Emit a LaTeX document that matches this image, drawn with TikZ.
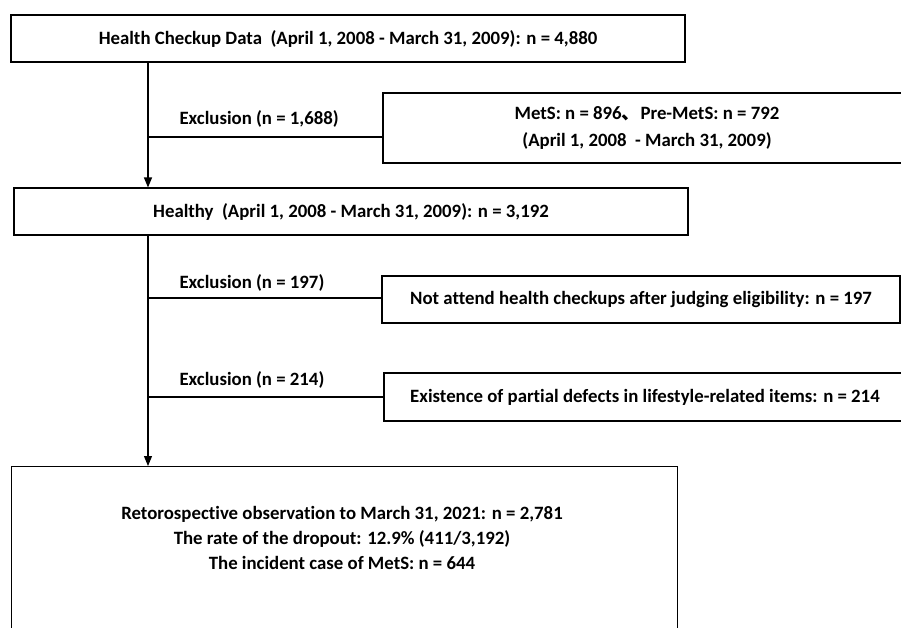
\documentclass[tikz,border=0pt]{standalone}
\usepackage{fontspec}
\setmainfont{Carlito}[Ligatures=NoCommon]
\newfontfamily\cjk{Noto Sans CJK SC}
\usetikzlibrary{arrows.meta,positioning,calc}

\begin{document}
\begin{tikzpicture}[x=1pt, y=-1pt, line width=1.1pt,
  font=\bfseries\fontsize{18.8}{25}\selectfont, >={Triangle[length=10pt,width=8pt]},
  box/.style={draw, rectangle, inner sep=0pt, align=center},
  lbl/.style={inner sep=0pt, anchor=west}]
  \useasboundingbox (0,0) rectangle (901,627);
  \fill[white] (0,0) rectangle (901,627);
  \clip (0,0) rectangle (901,627);
  % main column
  \node[box, minimum width=674pt, minimum height=47pt] (data) at (348,38.5)
    {Health Checkup Data~~(April 1, 2008 - March 31, 2009): n = 4,880};
  \node[box, minimum width=674pt, minimum height=47pt] (healthy) at (351,211.5)
    {Healthy~~(April 1, 2008 - March 31, 2009): n = 3,192};
  \node[box, minimum width=666pt, minimum height=200pt, anchor=north west] (retro) at (11,466) {};
  \node[align=center, inner sep=0pt] (retrotxt) at (342,538)
    {Retorospective observation to March 31, 2021: n = 2,781\\
     The rate of the dropout: 12.9\% (411/3,192)\\
     The incident case of MetS: n = 644};
  % excluded boxes
  \node[box, minimum width=528pt, minimum height=70pt, font=\bfseries\fontsize{18.8}{27}\selectfont] (mets) at (647,128)
    {MetS: n = 896{\cjk 、}Pre-MetS: n = 792\\(April 1, 2008~~- March 31, 2009)};
  \node[box, minimum width=518pt, minimum height=47pt] (notatt) at (641,299.5)
    {Not attend health checkups after judging eligibility: n = 197};
  \node[box, minimum width=522pt, minimum height=48pt] (exist) at (645,397)
    {Existence of partial defects in lifestyle-related items: n = 214};
  % trunk and branches
  \coordinate (trunk) at (148,0);
  \coordinate (b1) at (148,137);
  \coordinate (b2) at (148,298);
  \coordinate (b3) at (148,397);
  \draw[->] (data.south -| trunk) -- (healthy.north -| trunk);
  \draw[->] (healthy.south -| trunk) -- (retro.north -| trunk);
  \draw (b1) -- (b1 -| mets.west);
  \draw (b2) -- (b2 -| notatt.west);
  \draw (b3) -- (b3 -| exist.west);
  \node[lbl] (ex1) at (179,119) {Exclusion (n = 1,688)};
  \node[lbl] (ex2) at (179,283) {Exclusion (n = 197)};
  \node[lbl] (ex3) at (179,380) {Exclusion (n = 214)};
\end{tikzpicture}
\end{document}
